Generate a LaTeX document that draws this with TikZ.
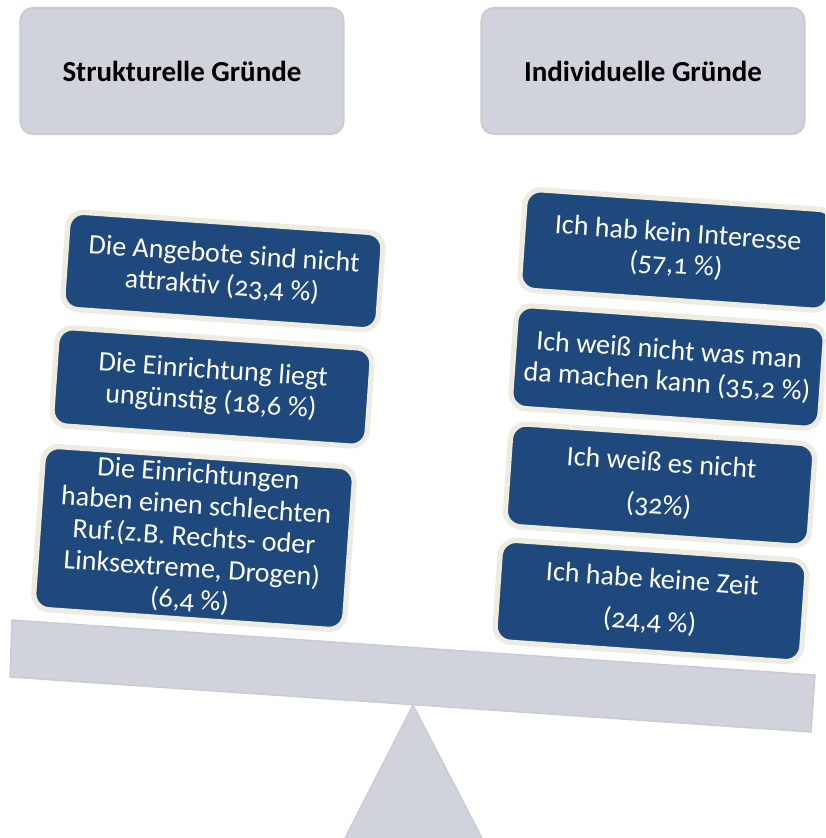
\documentclass[tikz,border=0pt]{standalone}
\usepackage{fontspec}
\setmainfont{Carlito}[Numbers=OldStyle]
\definecolor{dunkelblau}{HTML}{1F497D}
\definecolor{creme}{HTML}{EEECE1}
\definecolor{hellgrau}{HTML}{D0D3DB}
\definecolor{randgrau}{HTML}{C9CCD5}
\tikzset{
  kopf/.style={draw=randgrau, line width=1.2pt, fill=hellgrau, rounded corners=7pt,
    minimum width=6.46cm, minimum height=2.52cm, inner sep=0pt,
    font=\fontsize{16.5}{19}\selectfont\bfseries},
  grund/.style={draw=creme, line width=3pt, fill=dunkelblau, rounded corners=9pt,
    text=white, align=center, rotate=-4, minimum width=6.25cm, inner sep=0pt,
    font=\fontsize{16}{18}\selectfont},
}
\begin{document}
\begin{tikzpicture}[x=0.02cm, y=-0.02cm]
\clip (0,0) rectangle (825,838);
\fill[white] (0,0) rectangle (825,838);
% waage
\filldraw[fill=hellgrau, draw=randgrau, line width=0.8pt] (413,705) -- (483,840) -- (344,840) -- cycle;
\filldraw[fill=hellgrau, draw=randgrau, line width=0.8pt] (12,620) -- (815,675) -- (811,732) -- (10,677) -- cycle;
% ueberschriften
\node[kopf] (struktur) at (182,71) {Strukturelle Gründe};
\node[kopf] (individuell) at (643,71) {Individuelle Gründe};
% strukturelle gruende
\node[grund, minimum width=6.32cm, minimum height=1.95cm] (angebote) at (223,271)
  {Die Angebote sind nicht\\attraktiv (23,4 \%)};
\node[grund, minimum width=6.32cm, minimum height=1.97cm] (lage) at (212,387)
  {Die Einrichtung liegt\\ungünstig (18,6 \%)};
\node[grund, minimum width=6.24cm, minimum height=3.27cm] (ruf) at (194,538)
  {Die Einrichtungen\\haben einen schlechten\\Ruf.(z.B. Rechts- oder\\Linksextreme, Drogen)\\(6,4 \%)};
% individuelle gruende
\node[grund, minimum width=6.2cm, minimum height=2.02cm] (interesse) at (677,250)
  {Ich hab kein Interesse\\(57,1 \%)};
\node[grund, minimum width=6.2cm, minimum height=2.06cm] (machen) at (668,367)
  {Ich weiß nicht was man\\da machen kann (35,2 \%)};
\node[grund, minimum width=6.1cm, minimum height=2.06cm] (weiss) at (660,485)
  {Ich weiß es nicht\\[6pt](32\%)};
\node[grund, minimum width=6.15cm, minimum height=2.04cm] (zeit) at (651,601)
  {Ich habe keine Zeit\\[6pt](24,4 \%)};
\end{tikzpicture}
\end{document}
